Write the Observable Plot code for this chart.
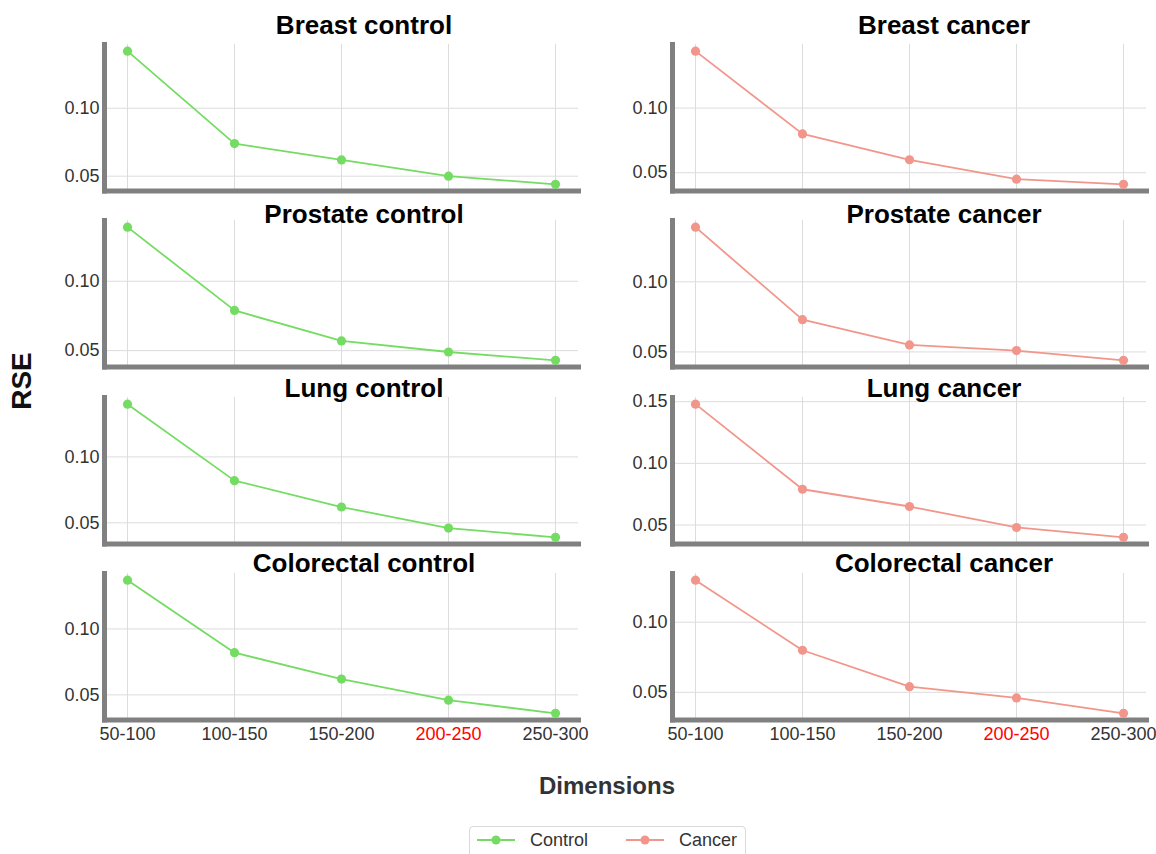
<!DOCTYPE html>
<html>
<head>
<meta charset="utf-8">
<script src="https://cdn.jsdelivr.net/npm/d3@7"></script>
<script src="https://cdn.jsdelivr.net/npm/@observablehq/plot@0.6"></script>
<style>
  html, body { margin: 0; padding: 0; background: #fff; overflow: hidden; }
  #chart { position: relative; width: 1156px; height: 854px; font-family: "Liberation Sans", Arial, sans-serif; }
  .panel { position: absolute; }
  .strip { position: absolute; transform: translate(-50%, -50%); font-weight: bold; font-size: 26px; color: #000; white-space: nowrap; }
  .ylab { position: absolute; left: 22px; top: 381px; transform: translate(-50%, -50%) rotate(-90deg); font-weight: bold; font-size: 28px; color: #111; }
  .xlab { position: absolute; left: 607px; top: 786px; transform: translate(-50%, -50%); font-weight: bold; font-size: 24px; color: #333; }
  .legend { position: absolute; left: 469px; top: 826px; width: 277px; height: 40px; border: 1px solid #d9d9d9; border-radius: 4px; display: flex; align-items: flex-start; padding-top: 1px; box-sizing: border-box; }
  .legend .item { display: flex; align-items: center; font-size: 18px; color: #333; }
  .legend svg { display: block; }
</style>
</head>
<body>
<div id="chart"></div>
<script>
// Dimension bins on the x axis
const dims = ["50-100", "100-150", "150-200", "200-250", "250-300"];
const highlightDim = "200-250";

// RSE per dimension bin, one array per tissue and group
const breastControl     = [0.142, 0.074, 0.062, 0.050, 0.044];
const breastCancer      = [0.144, 0.080, 0.060, 0.045, 0.041];
const prostateControl   = [0.139, 0.079, 0.057, 0.049, 0.043];
const prostateCancer    = [0.139, 0.073, 0.055, 0.051, 0.044];
const lungControl       = [0.140, 0.082, 0.062, 0.046, 0.039];
const lungCancer        = [0.148, 0.079, 0.065, 0.048, 0.040];
const colorectalControl = [0.137, 0.082, 0.062, 0.046, 0.036];
const colorectalCancer  = [0.130, 0.080, 0.054, 0.046, 0.035];

// Candidate y tick values
const rseTicks = [0.05, 0.10, 0.15];

// Groups and their colours
const groups = ["Control", "Cancer"];
const groupColors = ["#75dc63", "#f2968b"];

// Panel list: rows are tissues, columns are groups
const tissues = ["Breast", "Prostate", "Lung", "Colorectal"];
const panelValues = [
  [breastControl, breastCancer],
  [prostateControl, prostateCancer],
  [lungControl, lungCancer],
  [colorectalControl, colorectalCancer]
];

// Layout
const colLeft = [104, 672];
const panelW = 474;
const panelH = 146.5;
const rowTop0 = 44;
const rowPitch = 176.3;
const stripX = [364, 944];
const stripY = [25, 214, 388, 563];
const axisGray = "#808080";
const gridGray = "#dcdcdc";
const textGray = "#333";

const chart = document.getElementById("chart");

tissues.forEach((tissue, r) => {
  groups.forEach((group, c) => {
    const values = panelValues[r][c];
    const color = groupColors[c];
    const data = dims.map((dim, i) => ({dim, rse: values[i]}));
    const [lo, hi] = d3.extent(values);
    const pad = (hi - lo) * 0.05;
    const domain = [lo - pad, hi + pad];
    const ticks = rseTicks.filter(t => t >= domain[0] && t <= domain[1]);
    const bottomRow = r === tissues.length - 1;

    const marginLeft = 80, marginRight = 10, marginTop = 6;
    const marginBottom = bottomRow ? 34 : 6;

    const marks = [
      Plot.gridY(ticks, {stroke: gridGray, strokeOpacity: 1, strokeWidth: 1}),
      Plot.gridX(dims, {stroke: gridGray, strokeOpacity: 1, strokeWidth: 1}),
      Plot.frame({anchor: "left", stroke: axisGray, strokeWidth: 5, strokeLinecap: "square"}),
      Plot.frame({anchor: "bottom", stroke: axisGray, strokeWidth: 5, strokeLinecap: "square"}),
      Plot.line(data, {x: "dim", y: "rse", stroke: color, strokeWidth: 1.8}),
      Plot.dot(data, {x: "dim", y: "rse", r: 4.6, fill: color, stroke: "none"}),
      Plot.axisY(ticks, {tickSize: 0, tickPadding: 5, tickFormat: d3.format(".2f"), label: null, color: textGray, fontSize: 18})
    ];
    if (bottomRow) {
      marks.push(
        Plot.axisX(dims.filter(d => d !== highlightDim), {tickSize: 0, tickPadding: 7, label: null, color: textGray, fontSize: 18}),
        Plot.axisX([highlightDim], {tickSize: 0, tickPadding: 7, label: null, color: "#ff0000", fontSize: 18})
      );
    }

    const svg = Plot.plot({
      width: marginLeft + panelW + marginRight,
      height: marginTop + panelH + marginBottom,
      marginLeft, marginRight, marginTop, marginBottom,
      style: {fontFamily: "'Liberation Sans', Arial, sans-serif", fontSize: "18px", color: textGray, background: "transparent", overflow: "visible"},
      x: {type: "point", domain: dims, padding: 0.205, axis: bottomRow ? undefined : null},
      y: {domain},
      marks
    });

    const holder = document.createElement("div");
    holder.className = "panel";
    holder.style.left = (colLeft[c] - marginLeft) + "px";
    holder.style.top = (rowTop0 + r * rowPitch - marginTop) + "px";
    holder.appendChild(svg);
    chart.appendChild(holder);

    const strip = document.createElement("div");
    strip.className = "strip";
    strip.textContent = `${tissue} ${group.toLowerCase()}`;
    strip.style.left = stripX[c] + "px";
    strip.style.top = stripY[r] + "px";
    chart.appendChild(strip);
  });
});

// Axis titles
const ylab = document.createElement("div");
ylab.className = "ylab";
ylab.textContent = "RSE";
chart.appendChild(ylab);

const xlab = document.createElement("div");
xlab.className = "xlab";
xlab.textContent = "Dimensions";
chart.appendChild(xlab);

// Legend: line-with-dot key for each group
const legend = document.createElement("div");
legend.className = "legend";
groups.forEach((g, i) => {
  const item = document.createElement("div");
  item.className = "item";
  item.style.marginLeft = i === 0 ? "6px" : "37px";
  item.innerHTML =
    `<svg width="40" height="24"><line x1="1" x2="39" y1="12" y2="12" stroke="${groupColors[i]}" stroke-width="2"/>` +
    `<circle cx="20" cy="12" r="4.5" fill="${groupColors[i]}"/></svg>` +
    `<span style="margin-left:14px">${g}</span>`;
  legend.appendChild(item);
});
chart.appendChild(legend);
</script>
</body>
</html>
